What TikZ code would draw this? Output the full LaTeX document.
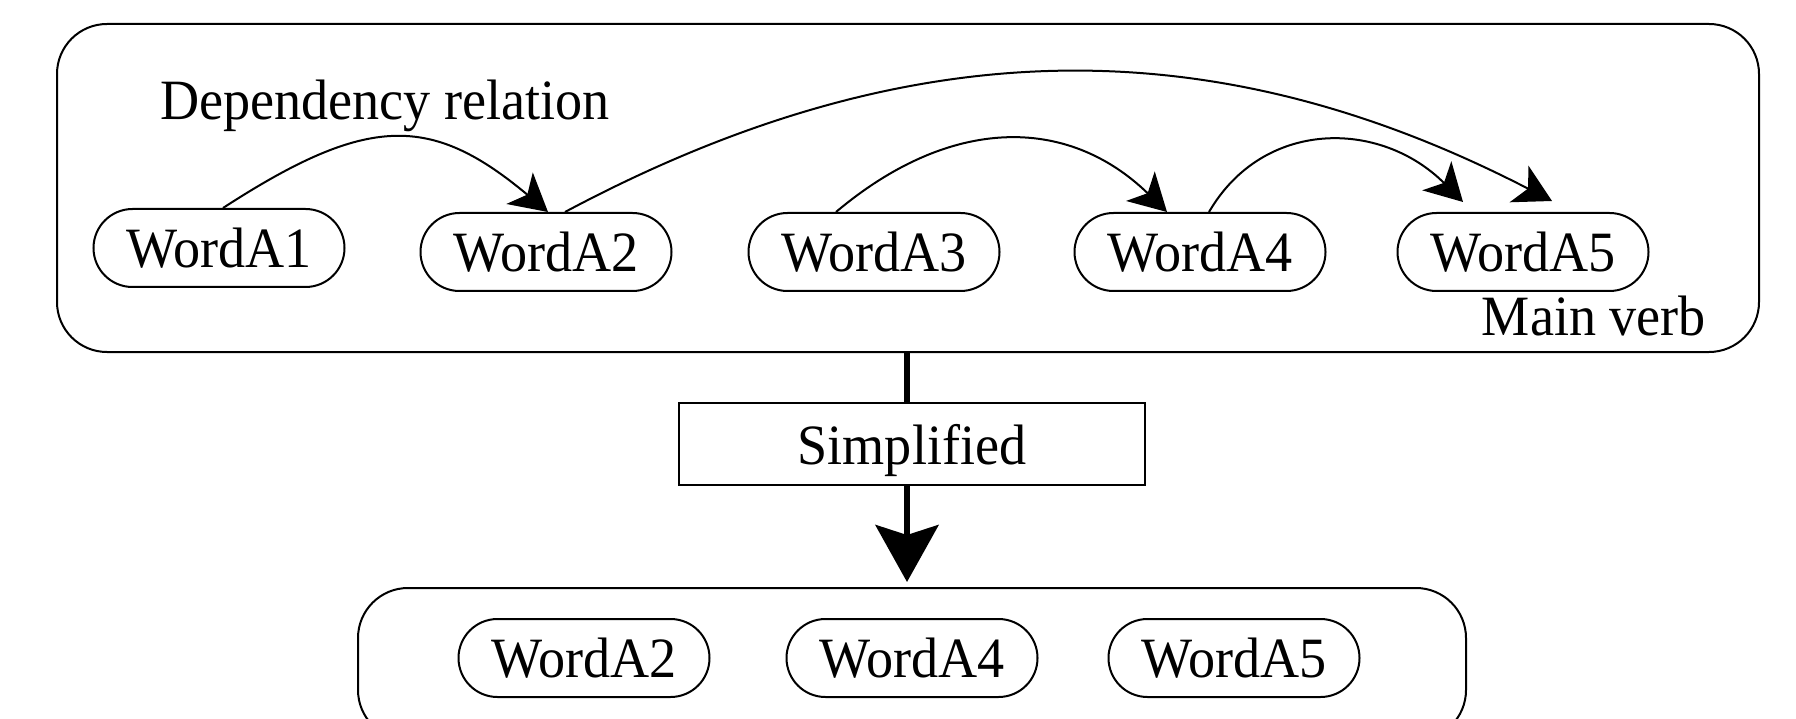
\documentclass[tikz,border=0pt]{standalone}
\usepackage{fontspec}
\setmainfont{Liberation Serif}[FakeStretch=0.95]
\usetikzlibrary{arrows.meta,shapes.misc}
\begin{document}
\begin{tikzpicture}[x=1pt,y=-1pt,
  every node/.style={font=\fontsize{57}{68}\selectfont},
  word/.style={draw,rounded rectangle,line width=2pt,minimum width=251pt,minimum height=78pt,inner sep=0pt},
  bigbox/.style={draw,rectangle,rounded corners=50pt,line width=2pt,inner sep=0pt},
  arc/.style={line width=2pt,-{Stealth[length=37pt,width=41pt,inset=10pt]}},
  thick arrow/.style={line width=6pt,-{Stealth[length=57pt,width=63pt,inset=10pt]}}
]
\useasboundingbox (0,0) rectangle (1796,719);
\clip (0,0) rectangle (1796,719);
% boxes
\node[bigbox,minimum width=1702pt,minimum height=328pt] (top) at (908,188) {};
\node[bigbox,minimum width=1108pt,minimum height=152pt] (bot) at (912,664) {};
\node[draw,rectangle,line width=2pt,minimum width=466pt,minimum height=82pt,inner sep=0pt,text depth=0pt] (simp) at (912,444) {Simplified};
% words top
\node[word] (A1) at (219,248) {WordA1};
\node[word] (A2) at (546,252) {WordA2};
\node[word] (A3) at (874,252) {WordA3};
\node[word] (A4) at (1200,252) {WordA4};
\node[word] (A5) at (1523,252) {WordA5};
% words bottom
\node[word] (B2) at (584,658) {WordA2};
\node[word] (B4) at (912,658) {WordA4};
\node[word] (B5) at (1234,658) {WordA5};
% labels
\node[anchor=base,inner sep=0pt] (dep) at (385,120) {Dependency relation};
\node[anchor=base,inner sep=0pt] (mv) at (1594,335) {Main verb};
% arcs
\draw[arc] ([xshift=4pt]A1.north) .. controls +(145,-94) and +(-117,-98) .. ([xshift=2pt]A2.north);
\draw[arc] ([xshift=19pt]A2.north) .. controls +(345,-184) and +(-337,-174) .. ([xshift=29pt,yshift=11pt]A5.north);
\draw[arc] ([xshift=-38pt]A3.north) .. controls +(114,-96) and +(-100,-97) .. ([xshift=-33pt]A4.north);
\draw[arc] ([xshift=9pt]A4.north) .. controls +(54,-93) and +(-83,-83) .. ([xshift=-60pt,yshift=10pt]A5.north);
% thick connector
\coordinate (sn) at ([xshift=-5pt]simp.north);
\draw[line width=6pt] (top.south -| sn) -- (sn);
\draw[thick arrow] ([xshift=-5pt]simp.south) -- ([xshift=-5pt,yshift=5pt]bot.north);
\end{tikzpicture}
\end{document}
